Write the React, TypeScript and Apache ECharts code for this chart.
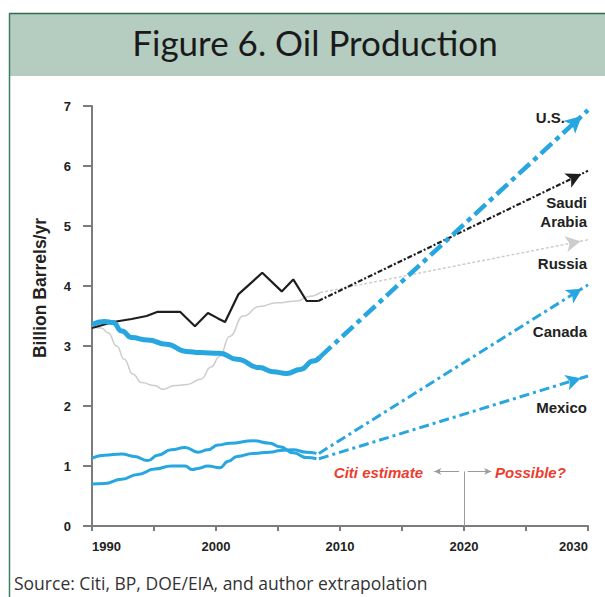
import React, { useEffect, useRef } from "react";
import * as echarts from "echarts";

// ---- Data ----
const usYears = [1990, 1991.0, 1991.7, 1992.4, 1993.2, 1994.5, 1996.0, 1997.6, 1998.7, 2000.3, 2001.7, 2003.5, 2004.6, 2005.7, 2006.8, 2007.85, 2008.4];
const usValues = [3.36, 3.41, 3.39, 3.25, 3.14, 3.10, 3.03, 2.91, 2.89, 2.88, 2.78, 2.64, 2.57, 2.54, 2.61, 2.75, 2.82];
const usProjection: [number, number][] = [[2008.4, 2.82], [2030, 6.93]];

const saudiYears = [1990, 1991.7, 1993.2, 1994.4, 1995.3, 1997.1, 1998.3, 1999.35, 2000.16, 2000.73, 2001.8, 2003.73, 2005.3, 2006.23, 2007.31, 2008.25];
const saudiValues = [3.30, 3.40, 3.45, 3.50, 3.57, 3.57, 3.33, 3.55, 3.46, 3.40, 3.86, 4.22, 3.91, 4.11, 3.75, 3.75];
const saudiProjection: [number, number][] = [[2008.25, 3.75], [2030, 5.92]];

const russiaYears = [1990, 1990.75, 1991.3, 1992.0, 1992.6, 1993.3, 1994.0, 1995.05, 1995.7, 1996.7, 1997.7, 1998.8, 1999.6, 2000.3, 2001.1, 2002.2, 2003.5, 2004.9, 2006.5, 2007.6, 2008.4];
const russiaValues = [3.33, 3.30, 3.22, 3.00, 2.78, 2.53, 2.39, 2.34, 2.28, 2.34, 2.36, 2.45, 2.65, 2.83, 3.16, 3.50, 3.66, 3.72, 3.75, 3.83, 3.89];
const russiaProjection: [number, number][] = [[2008.4, 3.89], [2030, 4.77]];

const mexicoYears = [1990, 1991.0, 1992.4, 1993.4, 1994.5, 1995.3, 1996.4, 1997.5, 1998.55, 1999.35, 2000.16, 2001.13, 2003.0, 2004.35, 2005.16, 2006.23, 2007.31, 2008.1];
const mexicoValues = [1.13, 1.18, 1.20, 1.16, 1.09, 1.18, 1.27, 1.31, 1.23, 1.27, 1.35, 1.38, 1.42, 1.38, 1.32, 1.22, 1.14, 1.12];
const mexicoProjection: [number, number][] = [[2008.3, 1.12], [2030, 2.50]];

const canadaYears = [1990, 1991.0, 1992.4, 1993.7, 1995.06, 1996.4, 1997.5, 1998.1, 1998.55, 1999.35, 2000.3, 2001.0, 2001.7, 2003.0, 2004.35, 2005.2, 2006.2, 2007.3, 2008.1];
const canadaValues = [0.70, 0.71, 0.78, 0.86, 0.95, 1.00, 1.00, 0.94, 0.96, 1.00, 0.97, 1.08, 1.16, 1.21, 1.23, 1.26, 1.27, 1.23, 1.21];
const canadaProjection: [number, number][] = [[2008.3, 1.21], [2030, 4.02]];

const xMin = 1990;
const xMax = 2030;
const yMin = 0;
const yMax = 7;
const dividerYear = 2020;
const dividerValue = 0.91;

const seriesLabels = ["U.S.", "Saudi", "Arabia", "Russia", "Canada", "Mexico"];

// ---- Layout / style ----
const W = 605;
const H = 597;
const GRID = { left: 92, right: 17, top: 106, bottom: 71 };
const BLUE = "#27a6df";
const BLACK = "#1e1e1e";
const GRAY = "#cdcdcd";
const RED = "#ec3d2f";

const zip = (xs: number[], ys: number[]) => xs.map((x, i) => [x, ys[i]]);

function arrowItem(start: [number, number], end: [number, number], size: [number, number]) {
  const gw = W - GRID.left - GRID.right;
  const gh = H - GRID.top - GRID.bottom;
  const dx = ((end[0] - start[0]) * gw) / (xMax - xMin);
  const dy = ((end[1] - start[1]) * gh) / (yMax - yMin);
  const a = Math.atan2(dy, dx);
  const h = size[1];
  return {
    value: end,
    symbol: "arrow",
    symbolSize: size,
    symbolRotate: (a * 180) / Math.PI - 90,
    symbolOffset: [-(h / 2) * Math.cos(a), (h / 2) * Math.sin(a)],
  };
}

function projection(name: string, pts: [number, number][], color: string, width: number, dash: number[], size: [number, number], z: number) {
  return {
    name,
    type: "line",
    data: [{ value: pts[0], symbol: "none" }, arrowItem(pts[0], pts[1], size)],
    symbol: "none",
    showSymbol: true,
    lineStyle: { color, width, type: dash },
    itemStyle: { color, borderWidth: 0 },
    z,
    silent: true,
  };
}

export default function App() {
  const ref = useRef<HTMLDivElement>(null);

  useEffect(() => {
    document.body.style.margin = "0";
    const chart = echarts.init(ref.current!, null, { renderer: "svg" });
    const labelFont = "bold 15px 'Liberation Sans'";
    const labelFill = "#222";

    const option: any = {
      animation: false,
      backgroundColor: "#ffffff",
      grid: { ...GRID, containLabel: false },
      xAxis: {
        type: "value",
        min: xMin,
        max: xMax,
        interval: 5,
        axisLine: { lineStyle: { color: "#7c7c7c", width: 2 } },
        axisTick: { show: true, length: 5, lineStyle: { color: "#7c7c7c", width: 2 } },
        axisLabel: {
          margin: 14,
          color: "#222",
          fontFamily: "Liberation Sans",
          fontWeight: "bold",
          fontSize: 13,
          alignMinLabel: "left",
          alignMaxLabel: "right",
          formatter: (v: number) => (v % 10 === 0 ? String(v) : ""),
        },
        splitLine: { show: false },
      },
      yAxis: {
        type: "value",
        min: yMin,
        max: yMax,
        interval: 1,
        axisLine: { show: true, lineStyle: { color: "#7c7c7c", width: 2 } },
        axisTick: { show: true, length: 9, lineStyle: { color: "#7c7c7c", width: 2 } },
        axisLabel: {
          margin: 21,
          color: "#222",
          fontFamily: "Liberation Sans",
          fontWeight: "bold",
          fontSize: 13,
        },
        splitLine: { show: false },
      },
      series: [
        {
          name: "Russia",
          type: "line",
          data: zip(russiaYears, russiaValues),
          smooth: 0.5,
          smoothMonotone: "x",
          symbol: "none",
          lineStyle: { color: GRAY, width: 1.5 },
          z: 2,
          silent: true,
          markLine: {
            silent: true,
            symbol: "none",
            animation: false,
            label: { show: false },
            lineStyle: { color: "#9a9a9a", width: 1, type: "solid" },
            data: [
              [{ coord: [dividerYear, yMin] }, { coord: [dividerYear, dividerValue] }],
              [
                { coord: [dividerYear - 0.4, dividerValue], symbol: "none" },
                { coord: [dividerYear - 2.4, dividerValue], symbol: "arrow", symbolSize: [5, 7] },
              ],
              [
                { coord: [dividerYear + 0.3, dividerValue], symbol: "none" },
                { coord: [dividerYear + 2.2, dividerValue], symbol: "arrow", symbolSize: [5, 7] },
              ],
            ],
          },
        },
        projection("Russia projection", russiaProjection, GRAY, 1.5, [3, 2], [12, 15], 2),
        {
          name: "Saudi Arabia",
          type: "line",
          data: zip(saudiYears, saudiValues),
          symbol: "none",
          lineStyle: { color: BLACK, width: 2.2 },
          z: 3,
          silent: true,
        },
        projection("Saudi projection", saudiProjection, BLACK, 2.2, [5, 2, 2, 2], [12, 15], 3),
        {
          name: "Canada",
          type: "line",
          data: zip(canadaYears, canadaValues),
          smooth: 0.5,
          smoothMonotone: "x",
          symbol: "none",
          lineStyle: { color: BLUE, width: 3 },
          z: 4,
          silent: true,
        },
        projection("Canada projection", canadaProjection, BLUE, 3, [10, 4, 3, 4], [12, 15], 4),
        {
          name: "Mexico",
          type: "line",
          data: zip(mexicoYears, mexicoValues),
          smooth: 0.5,
          smoothMonotone: "x",
          symbol: "none",
          lineStyle: { color: BLUE, width: 3 },
          z: 4,
          silent: true,
        },
        projection("Mexico projection", mexicoProjection, BLUE, 3, [10, 4, 3, 4], [12, 15], 4),
        {
          name: "U.S.",
          type: "line",
          data: zip(usYears, usValues),
          smooth: 0.5,
          smoothMonotone: "x",
          symbol: "none",
          lineStyle: { color: BLUE, width: 5 },
          z: 5,
          silent: true,
        },
        projection("U.S. projection", usProjection, BLUE, 4.5, [15, 5, 5, 5], [13, 17], 5),
      ],
      graphic: [
        { type: "rect", shape: { x: 9, y: 13, width: W - 9, height: 63 }, style: { fill: "#b5ccc0" }, z: 0 },
        { type: "line", shape: { x1: 9, y1: 13.5, x2: W, y2: 13.5 }, style: { stroke: "#2f6b50", lineWidth: 1.5 } },
        { type: "line", shape: { x1: 9.5, y1: 13, x2: 9.5, y2: H }, style: { stroke: "#3f7f5f", lineWidth: 1.5 } },
        {
          type: "text",
          x: 315,
          y: 42,
          style: { text: "Figure 6. Oil Production", font: "35px Lato", fill: "#1a1a1a", textAlign: "center", textVerticalAlign: "middle" },
        },
        {
          type: "text",
          x: 14,
          y: 583,
          style: { text: "Source: Citi, BP, DOE/EIA, and author extrapolation", font: "17.5px 'Open Sans'", fill: "#333", textAlign: "left", textVerticalAlign: "middle" },
        },
        {
          type: "text",
          x: 40,
          y: 288,
          rotation: Math.PI / 2,
          style: { text: "Billion Barrels/yr", font: "bold 17.5px 'Liberation Sans'", fill: "#222", textAlign: "center", textVerticalAlign: "middle" },
        },
        { type: "text", x: 565, y: 117, style: { text: seriesLabels[0], font: labelFont, fill: labelFill, textAlign: "right", textVerticalAlign: "middle" } },
        { type: "text", x: 587, y: 202, style: { text: seriesLabels[1], font: labelFont, fill: labelFill, textAlign: "right", textVerticalAlign: "middle" } },
        { type: "text", x: 587, y: 221, style: { text: seriesLabels[2], font: labelFont, fill: labelFill, textAlign: "right", textVerticalAlign: "middle" } },
        { type: "text", x: 587, y: 263, style: { text: seriesLabels[3], font: labelFont, fill: labelFill, textAlign: "right", textVerticalAlign: "middle" } },
        { type: "text", x: 587, y: 331, style: { text: seriesLabels[4], font: labelFont, fill: labelFill, textAlign: "right", textVerticalAlign: "middle" } },
        { type: "text", x: 587, y: 407, style: { text: seriesLabels[5], font: labelFont, fill: labelFill, textAlign: "right", textVerticalAlign: "middle" } },
        { type: "text", x: 423, y: 472, style: { text: "Citi estimate", font: "italic bold 15px 'Liberation Sans'", fill: RED, textAlign: "right", textVerticalAlign: "middle" } },
        { type: "text", x: 495, y: 472, style: { text: "Possible?", font: "italic bold 15px 'Liberation Sans'", fill: RED, textAlign: "left", textVerticalAlign: "middle" } },
      ],
    };

    chart.setOption(option);
    return () => chart.dispose();
  }, []);

  return <div ref={ref} style={{ width: W, height: H }} />;
}
